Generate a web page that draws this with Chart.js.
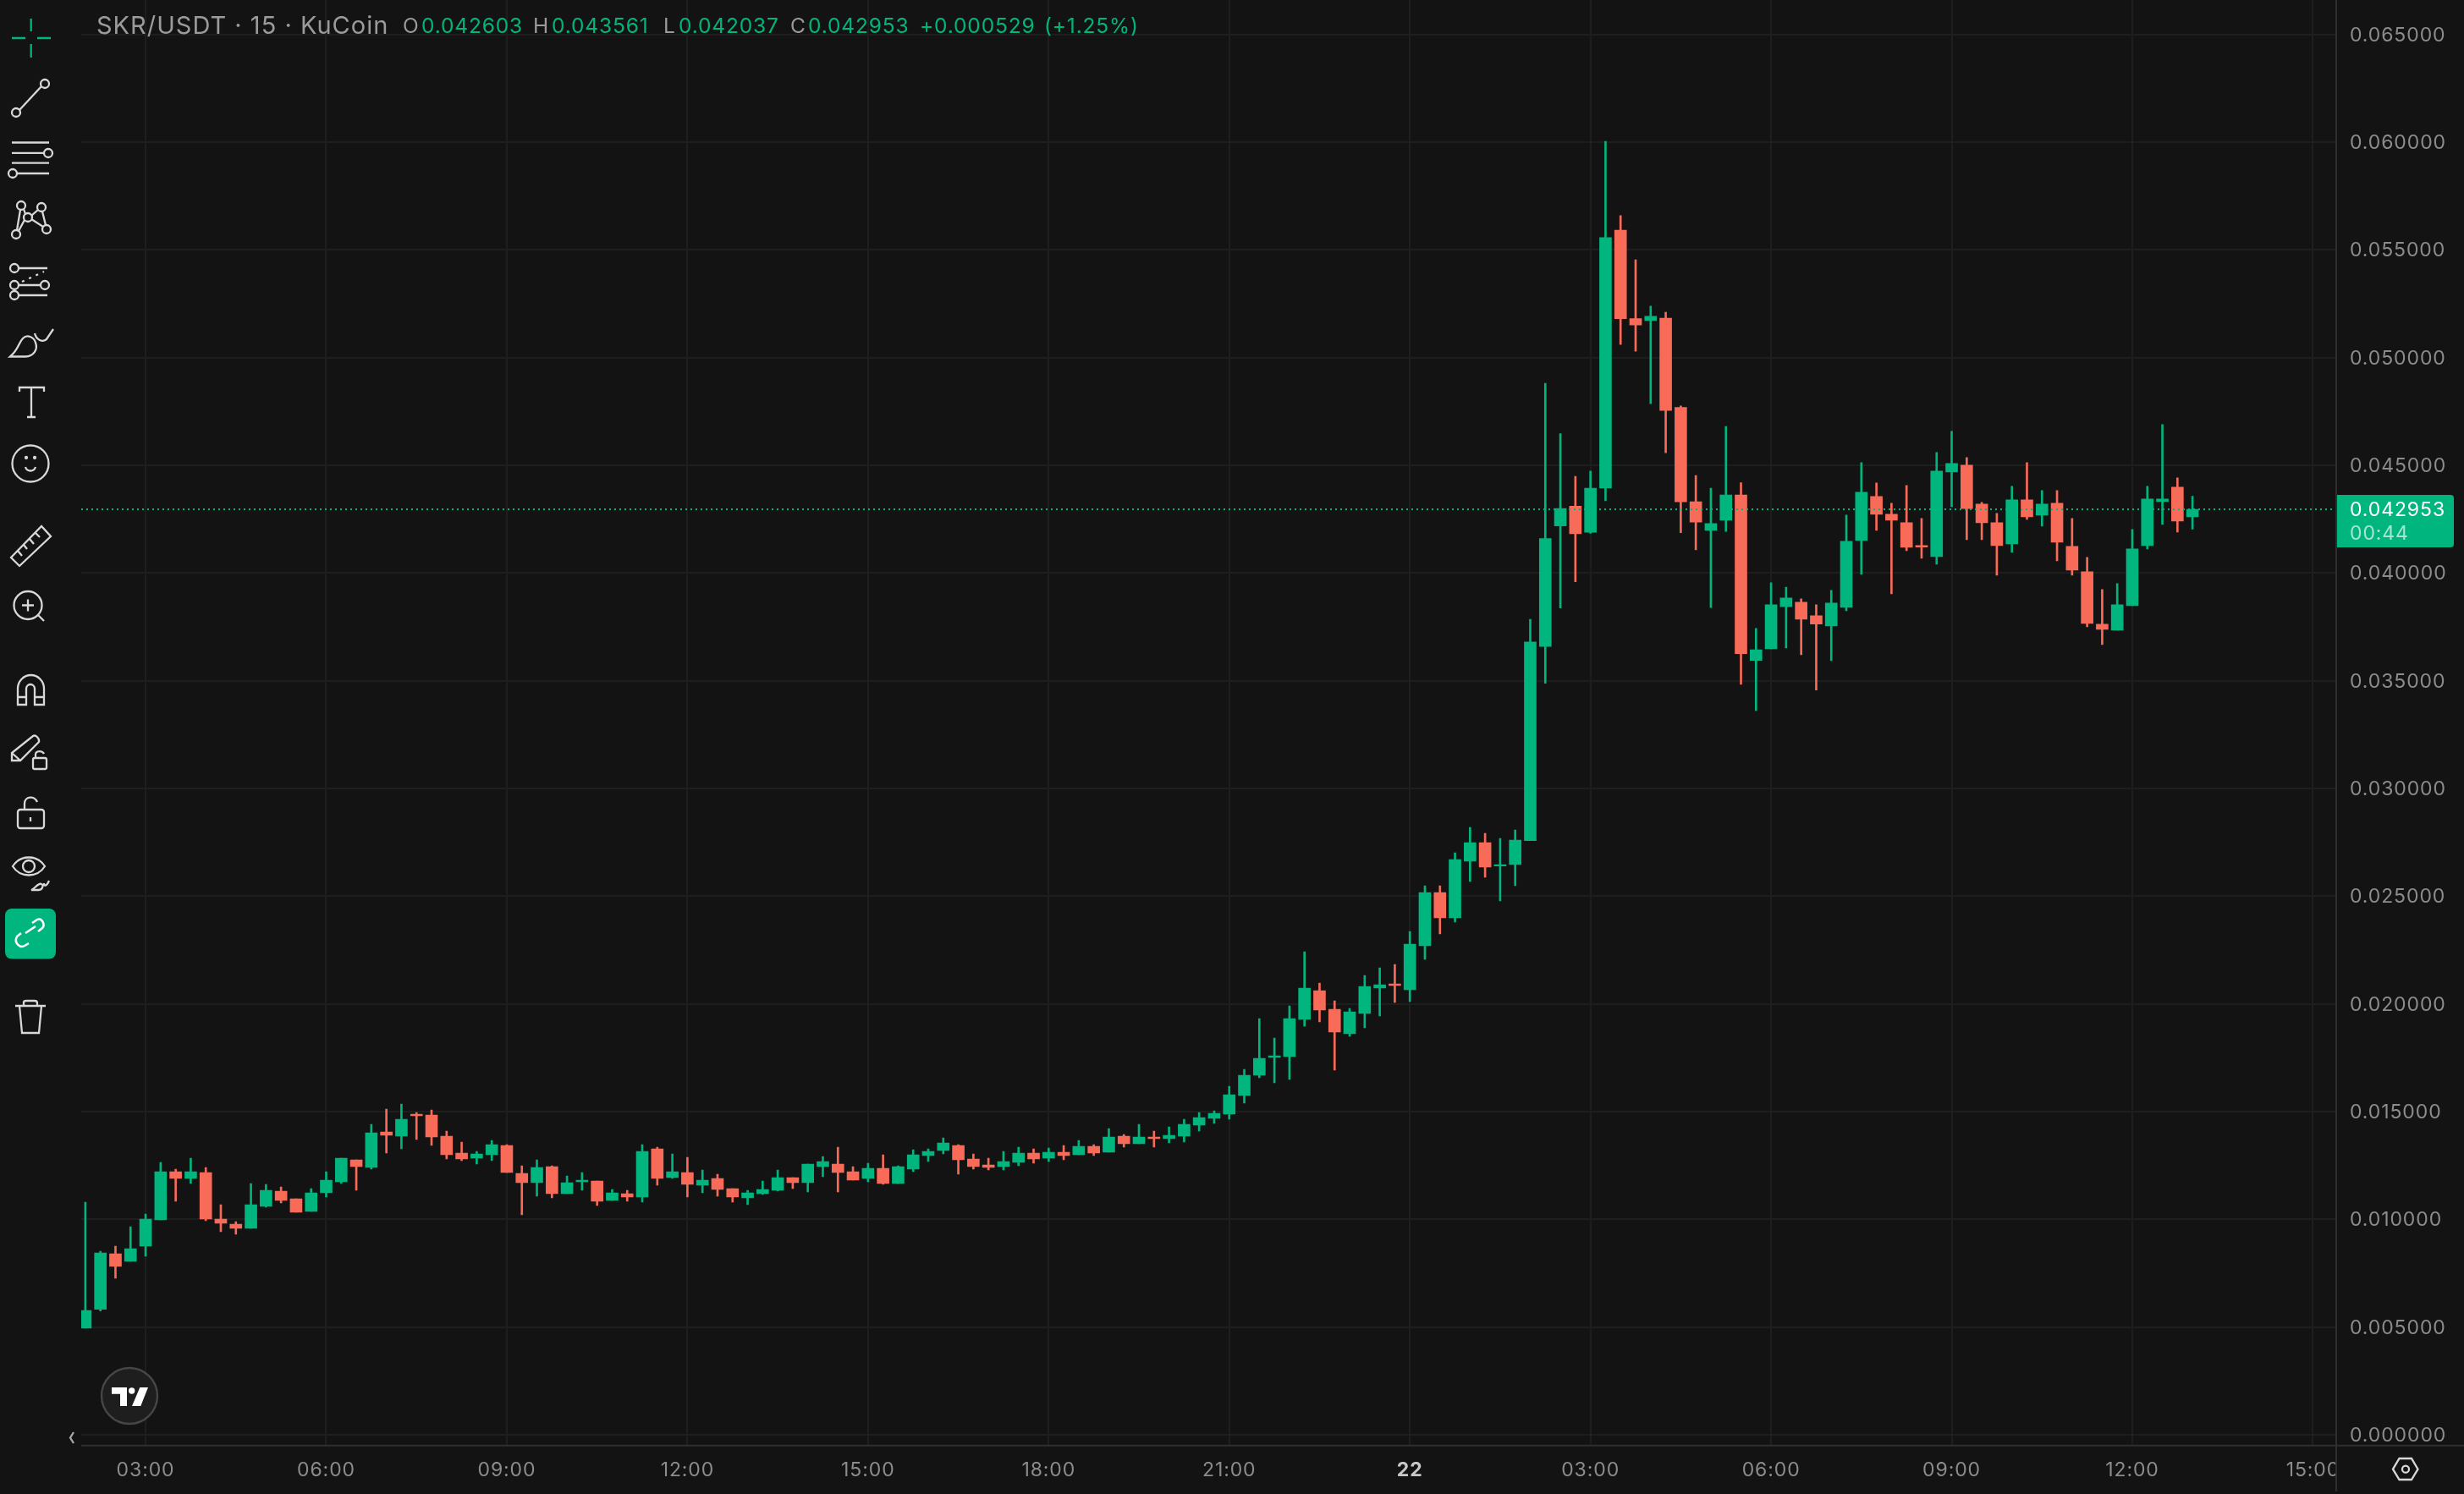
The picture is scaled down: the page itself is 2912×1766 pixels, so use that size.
<!DOCTYPE html>
<html>
<head>
<meta charset="utf-8">
<title>SKR/USDT</title>
<script src="https://cdn.jsdelivr.net/npm/chart.js@4/dist/chart.umd.js"></script>
<style>
  html, body { margin: 0; background: #131313; }
  #wrap { position: relative; width: 2912px; height: 1766px; overflow: hidden; font-family: Inter, sans-serif; }
  canvas { position: absolute; left: 0; top: 0; }
  #tools { position: absolute; left: 0; top: 0; pointer-events: none; }
  .hd { position: absolute; top: 13px; line-height: 34px; white-space: nowrap; font-size: 24.5px; letter-spacing: 0.85px; }
  .grey { color: #9b9b9b; }
  .up { color: #00b57e; }
</style>
</head>
<body>
<div id="wrap">
  <canvas id="chart" width="2912" height="1766"></canvas>
  <div id="header"></div>
  <svg id="tools" width="2912" height="1766" fill="none" stroke="#d8d8d8" stroke-width="2.300">
    <g stroke="#00b57e"><path d="M14 45H30M44 45H60M36.7 22V37M36.7 52V68"/></g>
    <circle cx="19" cy="133" r="5"/><circle cx="53" cy="99" r="5"/><path d="M23 130L49 102"/>
    <path d="M14 168.500H58M14 180.800H52M14 192.600H58M20 205H58"/><circle cx="57" cy="181" r="5"/><circle cx="15" cy="205" r="5"/>
    <circle cx="25" cy="243" r="5"/><circle cx="49" cy="245" r="5"/><circle cx="33" cy="257" r="5"/><circle cx="19" cy="277" r="5"/><circle cx="55" cy="271" r="5"/>
    <path d="M24 248L20 272M28 247L30 253M37 255L45 248M50 250L54 266M37 259L51 268M29 260L22 273"/>
    <circle cx="17" cy="317" r="5"/><circle cx="17" cy="337" r="5"/><circle cx="17" cy="349" r="5"/><circle cx="53" cy="337" r="5"/>
    <path d="M22 317H56M22 337H48M22 349H56"/><path d="M26 333L52 321" stroke-dasharray="3 6"/>
    <path d="M12 421.500H30C40 421 45 413 42 405C40 398 32 395 27 400C22 405 22 413 12 421.500ZM41 394C43 402 50 405 55 401L63 389"/>
    <path d="M23 463V458H52V463M37 458V493M32 493H42"/>
    <circle cx="36" cy="548" r="21.500"/><path d="M30 552C32 558 40 558 42 552"/>
    <circle cx="31" cy="541" r="1" fill="#d8d8d8"/><circle cx="41" cy="541" r="1" fill="#d8d8d8"/>
    <path d="M13 659L49 622L60 634L23 669ZM21 651L26 657M28 644L32 649M35 637L40 643M42 630L47 635"/>
    <circle cx="33" cy="715.500" r="16.500"/><path d="M45 727L52 734M26 715.500H40M33 708.500V722.500"/>
    <path d="M21 833V814A15.500 16 0 0 1 52 814V833H41V814A5 5 0 0 0 31 814V833ZM21 824H31M41 824H52"/>
    <path d="M14 890L39 870C42 868 47 873 46 877L24 899H14ZM14 890L24 899"/>
    <rect x="39" y="896" width="16" height="13" rx="2"/><path d="M42 896V892C42 887 50 887 52 891"/>
    <rect x="21" y="957" width="31" height="22" rx="3"/><path d="M29 957V950C29 941 41 940 44 948M36 966V971"/>
    <path d="M15 1024C24 1010 44 1010 53 1024C44 1038 24 1038 15 1024Z"/><circle cx="34" cy="1024" r="7"/>
    <path d="M37 1052H46C50 1052 52 1046 49 1045C45 1043 42 1050 37 1052ZM52 1044C52 1048 55 1048 58 1041"/>
    <rect x="6" y="1074" width="60" height="59.500" rx="8" fill="#00b57e" stroke="none"/>
    <g stroke="#fff" stroke-width="2.500"><path d="M30 1103L42 1095M38 1091L44 1087C49 1084 54 1093 50 1097L45 1101M34 1115L29 1118C24 1121 16 1115 20 1107L25 1103"/></g>
    <path d="M18 1189H54M28 1189V1185C28 1183 30 1183 31 1183H41C43 1183 44 1184 44 1186V1189M23 1189L26 1221H46L49 1189"/>
    <circle cx="153" cy="1650" r="33" fill="#1e1e1e" stroke="#474747"/>
    <g fill="#fff" stroke="none"><path d="M132 1640H150V1662H142V1647.700H132Z"/><circle cx="155.700" cy="1644" r="3.700"/><path d="M165.300 1640H175L166.300 1662H156Z"/></g>
    <path d="M87 1693L83 1699.500L87 1706" stroke="#a8a8a8"/>
    <path d="M2828 1736.700L2835.500 1724H2850L2857.500 1736.700L2850 1749H2835.500Z"/><circle cx="2843" cy="1736.700" r="4"/>
  </svg>
</div>
<script>
// 15 min candles, first one at 02:00
const opens = [
  0.004948,0.005825,0.008403,0.008050,0.008757,0.009974,0.012213,0.011898,0.012173,0.010013,
  0.009778,0.009581,0.010602,0.011309,0.010956,0.010367,0.011231,0.011741,0.012762,0.012409,
  0.014058,0.013862,0.014883,0.014844,0.013862,0.013076,0.012841,0.012998,0.013430,0.012134,
  0.011702,0.012448,0.011191,0.011741,0.011781,0.010877,0.011191,0.011034,0.013273,0.011938,
  0.012173,0.011584,0.011898,0.011427,0.010995,0.011191,0.011349,0.011938,0.011702,0.012448,
  0.012566,0.012213,0.011898,0.012370,0.011663,0.012330,0.012959,0.013194,0.013430,0.012802,
  0.012527,0.012448,0.012645,0.013076,0.012841,0.013116,0.012998,0.013391,0.013116,0.013862,
  0.013508,0.013823,0.013744,0.013862,0.014371,0.014686,0.014882,0.015746,0.016688,0.017513,
  0.017552,0.019280,0.020615,0.019751,0.018613,0.019555,0.020733,0.020930,0.020655,0.022697,
  0.025171,0.023993,0.026624,0.027488,0.026401,0.026467,0.027576,0.036592,0.042182,0.043106,
  0.041889,0.043940,0.055909,0.051807,0.051717,0.051829,0.047682,0.043309,0.041979,0.042453,
  0.043625,0.035939,0.036480,0.038440,0.038644,0.038012,0.037542,0.038406,0.041508,0.043550,
  0.042725,0.042333,0.041272,0.040762,0.044689,0.045003,0.043197,0.042333,0.041351,0.043393,
  0.042686,0.043236,0.041233,0.040055,0.037620,0.037345,0.038484,0.041272,0.043314,0.043982,
  0.042603
]
const closes = [
  0.005772,0.008443,0.007814,0.008639,0.010013,0.012213,0.011898,0.012213,0.010013,0.009817,
  0.009581,0.010681,0.011349,0.010877,0.010328,0.011231,0.011820,0.012841,0.012448,0.014019,
  0.013901,0.014647,0.014804,0.013823,0.012998,0.012802,0.013037,0.013469,0.012173,0.011702,
  0.012409,0.011191,0.011702,0.011820,0.010838,0.011231,0.011034,0.013155,0.011898,0.012213,
  0.011624,0.011820,0.011388,0.011034,0.011231,0.011388,0.011938,0.011702,0.012566,0.012684,
  0.012173,0.011820,0.012370,0.011663,0.012448,0.012998,0.013155,0.013548,0.012762,0.012448,
  0.012409,0.012684,0.013076,0.012802,0.013116,0.012959,0.013391,0.013076,0.013823,0.013508,
  0.013823,0.013744,0.013901,0.014412,0.014724,0.014921,0.015785,0.016688,0.017474,0.017592,
  0.019319,0.020733,0.019712,0.018691,0.019633,0.020812,0.020890,0.020851,0.022775,0.025171,
  0.023993,0.026702,0.027488,0.026349,0.026467,0.027605,0.036795,0.041596,0.042994,0.041821,
  0.043940,0.055571,0.051807,0.051514,0.051919,0.047547,0.043309,0.042362,0.042295,0.043625,
  0.036254,0.036434,0.038531,0.038846,0.037854,0.037629,0.038602,0.041469,0.043746,0.042725,
  0.042451,0.041194,0.041207,0.044728,0.045082,0.042990,0.042333,0.041272,0.043393,0.042608,
  0.043197,0.041429,0.040134,0.037660,0.037385,0.038524,0.041115,0.043432,0.043432,0.042411,
  0.042953
]
const highs = [
  0.010799,0.008521,0.008757,0.009660,0.010249,0.012644,0.012330,0.012841,0.012409,0.010681,
  0.009896,0.011663,0.011624,0.011506,0.010956,0.011427,0.012213,0.012841,0.012762,0.014412,
  0.015119,0.015354,0.014961,0.015079,0.014097,0.013587,0.013155,0.013666,0.013469,0.012487,
  0.012762,0.012487,0.012016,0.012173,0.011781,0.011388,0.011349,0.013469,0.013351,0.013037,
  0.012880,0.012291,0.012095,0.011427,0.011349,0.011781,0.012291,0.011938,0.012566,0.012919,
  0.013351,0.012448,0.012605,0.012998,0.012487,0.013233,0.013273,0.013783,0.013469,0.013037,
  0.012841,0.013155,0.013351,0.013273,0.013312,0.013430,0.013666,0.013469,0.014215,0.013940,
  0.014412,0.014097,0.014294,0.014647,0.014960,0.015039,0.016178,0.016963,0.019319,0.018416,
  0.019908,0.022422,0.020969,0.020144,0.019791,0.021322,0.021676,0.021833,0.023364,0.025485,
  0.025485,0.027016,0.028194,0.027920,0.027684,0.028077,0.037854,0.048809,0.046465,0.044481,
  0.044729,0.060034,0.056585,0.054534,0.052393,0.052100,0.047750,0.044526,0.043940,0.046803,
  0.044188,0.037426,0.039545,0.039342,0.038801,0.038531,0.039191,0.042686,0.045121,0.044178,
  0.043236,0.044061,0.042529,0.045592,0.046574,0.045356,0.043275,0.042765,0.044021,0.045121,
  0.043825,0.043825,0.042529,0.040723,0.039230,0.039505,0.042019,0.044021,0.046888,0.044414,
  0.043561
]
const lows = [
  0.004948,0.005746,0.007264,0.008050,0.008286,0.009974,0.010838,0.011663,0.009935,0.009424,
  0.009306,0.009581,0.010563,0.010760,0.010328,0.010367,0.011034,0.011663,0.011349,0.012330,
  0.013076,0.013273,0.013705,0.013430,0.012802,0.012723,0.012566,0.012723,0.012173,0.010210,
  0.011074,0.010995,0.011191,0.011349,0.010642,0.010877,0.010838,0.010799,0.011584,0.011898,
  0.011034,0.011231,0.011074,0.010799,0.010681,0.011152,0.011309,0.011427,0.011270,0.011977,
  0.011270,0.011820,0.011741,0.011624,0.011663,0.012213,0.012684,0.013037,0.012095,0.012330,
  0.012291,0.012291,0.012487,0.012605,0.012684,0.012762,0.012998,0.012959,0.013116,0.013351,
  0.013508,0.013351,0.013548,0.013587,0.014097,0.014450,0.014646,0.015393,0.016571,0.016335,
  0.016492,0.018966,0.019162,0.016924,0.018495,0.018888,0.019437,0.020066,0.020105,0.022068,
  0.023246,0.023796,0.025681,0.025877,0.024778,0.025485,0.027576,0.034879,0.038373,0.039590,
  0.041844,0.043354,0.050612,0.050297,0.047862,0.045586,0.041867,0.041078,0.038395,0.041934,
  0.034834,0.033617,0.036480,0.036525,0.036209,0.034564,0.035932,0.038249,0.039937,0.041979,
  0.039034,0.041037,0.040683,0.040408,0.043079,0.041547,0.041547,0.039898,0.040958,0.042490,
  0.042176,0.040566,0.039898,0.037503,0.036678,0.037345,0.038484,0.041115,0.042254,0.041901,
  0.042037
]

const xTickSlots = [4, 16, 28, 40, 52, 64, 76, 88, 100, 112, 124, 136, 148]
const xTickLabels = ['03:00', '06:00', '09:00', '12:00', '15:00', '18:00', '21:00', '22', '03:00', '06:00', '09:00', '12:00', '15:00']
const priceTicks = [0, 0.005, 0.01, 0.015, 0.02, 0.025, 0.03, 0.035, 0.04, 0.045, 0.05, 0.055, 0.06, 0.065]
const countdown = '00:44'
const prevClose = 0.042424

const UP = '#00b57e'
const DOWN = '#f76b58'
const BG = '#131313'
const GRID = '#1e1e1e'
const AXIS = '#2f2f2f'
const LABEL = '#8c8c8c'

const last = opens.length - 1
const lastClose = closes[last]
const colors = opens.map((o, i) => closes[i] >= o ? UP : DOWN)
const isDayTick = ctx => xTickLabels[xTickSlots.indexOf(ctx.tick?.value)] === '22'

// header is plain text, positions taken from the screenshot
const headerBits = [
  [114, 'SKR/USDT · 15 · KuCoin', 'grey', 29],
  [476, 'O', 'grey'], [498, opens[last].toFixed(6), 'up'],
  [630, 'H', 'grey'], [652, highs[last].toFixed(6), 'up'],
  [784, 'L', 'grey'], [802, lows[last].toFixed(6), 'up'],
  [934, 'C', 'grey'], [955, closes[last].toFixed(6), 'up'],
  [1087, '+' + (lastClose - prevClose).toFixed(6), 'up'], [1234, '(+1.25%)', 'up'],
]
document.getElementById('header').innerHTML = headerBits.map(([left, text, cls, size]) =>
  `<span class="hd ${cls}" style="left:${left}px${size ? `;font-size:${size}px;letter-spacing:1px` : ''}">${text}</span>`).join('')

// covers the part of the time labels that runs under the price axis
const priceGutter = {
  id: 'priceGutter',
  beforeDraw(chart) { chart.ctx.letterSpacing = '0.9px' },
  beforeDatasetsDraw(chart) {
    const { ctx, chartArea } = chart
    ctx.fillStyle = BG
    ctx.fillRect(chartArea.right, 0, chart.width - chartArea.right, chart.height)
  },
  afterDraw(chart) {
    const { ctx, chartArea, scales } = chart
    ctx.save()
    ctx.strokeStyle = AXIS
    ctx.lineWidth = 2
    ctx.beginPath()
    ctx.moveTo(chartArea.left, chartArea.bottom)
    ctx.lineTo(chart.width, chartArea.bottom)
    ctx.moveTo(chartArea.right, 0)
    ctx.lineTo(chartArea.right, 1763)
    ctx.stroke()

    const y = scales.y.getPixelForValue(lastClose)
    ctx.fillStyle = UP
    ctx.beginPath()
    ctx.roundRect(chartArea.right + 1, y - 17, 138, 62, [0, 4, 4, 0])
    ctx.fill()
    ctx.font = '23px Inter'
    ctx.textBaseline = 'middle'
    ctx.textAlign = 'left'
    ctx.fillStyle = '#ffffff'
    ctx.fillText(lastClose.toFixed(6), chartArea.right + 16, y + 1)
    ctx.fillStyle = 'rgba(255,255,255,0.65)'
    ctx.fillText(countdown, chartArea.right + 16, y + 29)
    ctx.restore()
  },
}

new Chart(document.getElementById('chart'), {
  type: 'bar',
  data: {
    datasets: [
      {
        type: 'line',
        data: [{ x: -0.2755, y: lastClose }, { x: 149.55, y: lastClose }],
        borderColor: UP,
        borderWidth: 2,
        borderDash: [2, 4],
        pointRadius: 0,
      },
      {
        data: opens.map((o, i) => ({ x: i, y: [o, closes[i]] })),
        backgroundColor: colors,
        barThickness: 14,
        grouped: false,
      },
      {
        data: lows.map((l, i) => ({ x: i, y: [l, highs[i]] })),
        backgroundColor: colors,
        barThickness: 2,
        grouped: false,
      },
    ],
  },
  options: {
    responsive: false,
    animation: false,
    devicePixelRatio: 1,
    events: [],
    layout: { padding: { left: 96 } },
    plugins: { legend: { display: false }, tooltip: { enabled: false } },
    scales: {
      x: {
        type: 'linear',
        offset: false,
        min: -0.2755,
        max: 149.55,
        grid: { color: GRID, lineWidth: 2, offset: false, drawTicks: false },
        border: { display: false },
        afterBuildTicks: scale => { scale.ticks = xTickSlots.map(value => ({ value })) },
        afterFit: scale => {
          scale.height = 57.3
          scale.paddingLeft = 0
          scale.paddingRight = 0
        },
        ticks: {
          autoSkip: false,
          maxRotation: 0,
          padding: 16,
          color: ctx => isDayTick(ctx) ? '#c8c8c8' : LABEL,
          font: ctx => isDayTick(ctx)
            ? { family: 'Inter', size: 23, weight: 'bold' }
            : { family: 'Inter', size: 23 },
          callback: v => xTickLabels[xTickSlots.indexOf(v)],
        },
      },
      y: {
        position: 'right',
        min: -0.000499,
        max: 0.066596,
        grid: { color: GRID, lineWidth: 2, drawTicks: false },
        border: { display: false },
        afterBuildTicks: scale => { scale.ticks = priceTicks.map(value => ({ value })) },
        afterFit: scale => {
          scale.width = 151
          scale.paddingTop = 0
          scale.paddingBottom = 0
        },
        ticks: {
          z: 1,
          padding: 16,
          labelOffset: 1,
          color: LABEL,
          font: { family: 'Inter', size: 23 },
          callback: v => v.toFixed(6),
        },
      },
    },
  },
  plugins: [priceGutter],
})
</script>
</body>
</html>
